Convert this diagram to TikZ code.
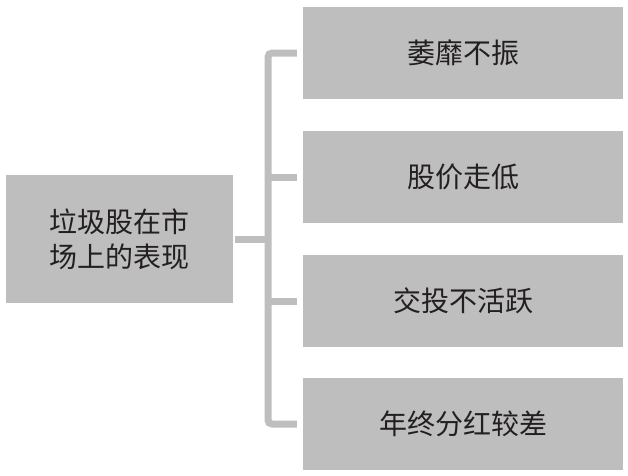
\documentclass[tikz,border=0pt]{standalone}
\usepackage{fontspec}
\newfontfamily\cjk{Noto Sans CJK SC}
\usepackage{tikz}
\usetikzlibrary{positioning}
\definecolor{boxgray}{RGB}{190,190,190}
\definecolor{textgray}{RGB}{35,31,32}

\begin{document}
\begin{tikzpicture}[x=1pt, y=-1pt,
    box/.style={fill=boxgray, draw=none, text=textgray, inner sep=0pt,
      font=\cjk\fontsize{28}{35}\selectfont, align=center},
    conn/.style={draw=boxgray, line width=7pt}]
  \useasboundingbox (0,0) rectangle (628,475);
  \node[box, minimum width=227pt, minimum height=128pt] (root) at (119.5,239)
    {垃圾股在市\\场上的表现};
  \foreach \y/\t/\n in {53/萎靡不振/a, 177/股价走低/b, 301/交投不活跃/c, 424/年终分红较差/d} {
    \node[box, minimum width=320pt, minimum height=92pt] (\n) at (463,\y) {\t};
  }
  \coordinate (spine) at (268,239);
  \draw[conn] ([xshift=2pt]root.east) -- (spine);
  \draw[conn, rounded corners=4pt] ([xshift=-6pt]a.west) -| (spine) |- ([xshift=-6pt]d.west);
  \foreach \n in {b, c} {
    \draw[conn] (spine |- \n.west) -- ([xshift=-6pt]\n.west);
  }
\end{tikzpicture}
\end{document}
